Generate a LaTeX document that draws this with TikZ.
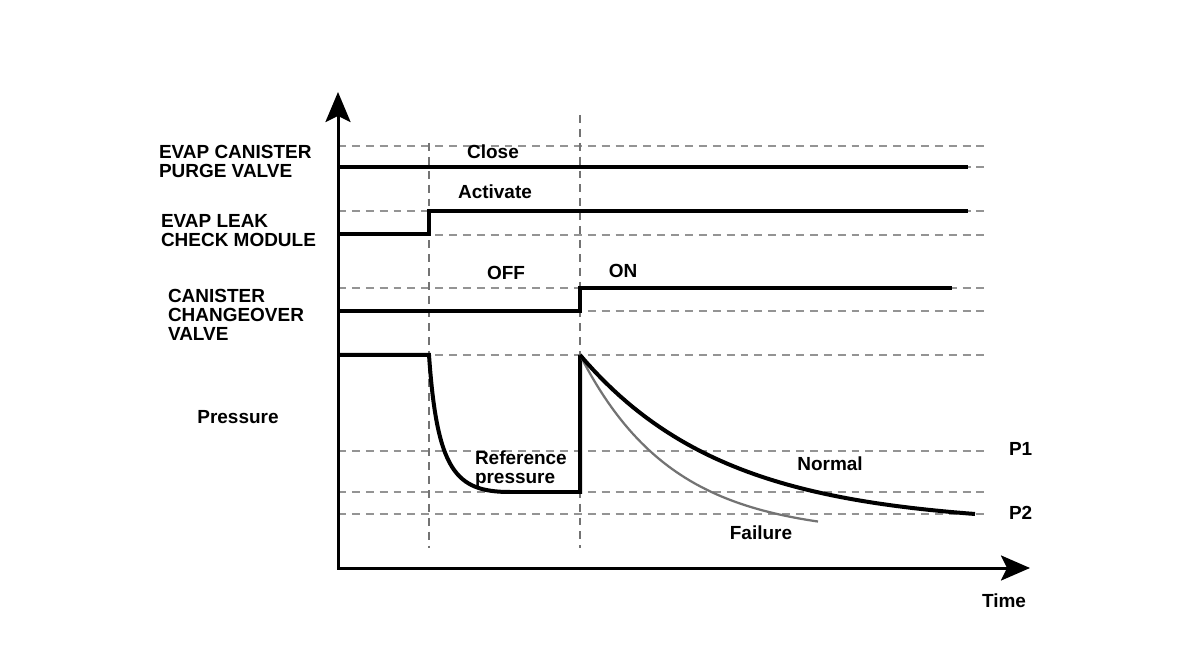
\documentclass[tikz,border=0pt]{standalone}
\usepackage{fontspec}
\setmainfont{Liberation Sans}
\usetikzlibrary{arrows.meta}
\usetikzlibrary{math}

\begin{document}
\begin{tikzpicture}[x=0.02cm,y=-0.02cm,line width=0.08cm,
  guide/.style={draw=black!42, line width=0.04cm, dash pattern=on 4.5pt off 3.4pt},
  vguide/.style={draw=black!55, line width=0.03cm, dash pattern=on 4.5pt off 3.4pt},
  sig/.style={draw=black, line width=0.08cm},
  failcurve/.style={draw=black!55, line width=0.045cm},
  axis/.style={draw=black, line width=0.06cm,
    {Stealth[length=0.6cm,width=0.5cm,inset=0.12cm]}-{Stealth[length=0.58cm,width=0.5cm,inset=0.12cm]}},
  txt/.style={inner sep=0pt, align=left, font=\bfseries\fontsize{10.8pt}{10.8pt}\selectfont}]

  \tikzmath{
    \xo = 338;  % time axis origin
    \yo = 568;  % level of the time axis
    \xs = 429;  % leak check module activated
    \xt = 580;  % changeover valve switched on
    \xe = 990;  % right end of the guide lines
  }

  % frame of the picture
  \useasboundingbox (0,0) rectangle (1199,661);

  \coordinate (O) at (\xo,\yo);
  \coordinate (Ytop) at (\xo,92);
  \coordinate (Xend) at (1030,\yo);

  % horizontal guide lines
  \foreach \lev in {146,167,211,235,288,311,355,451,492,514}
    \draw[guide] (\xo,\lev) -- (\xe,\lev);

  % vertical guide lines
  \draw[vguide] (\xs,143) -- (\xs,548);
  \draw[vguide] (\xt,115) -- (\xt,548);

  % purge valve, leak check module, changeover valve
  \draw[sig] (\xo,167) -- (968,167);
  \draw[sig] (\xo,234) -- (\xs,234) -- (\xs,211) -- (968,211);
  \draw[sig] (\xo,311) -- (\xt,311) -- (\xt,288) -- (952,288);

  % pressure
  \draw[sig] (\xo,355) -- (\xs,355) .. controls (437,470) and (455,492) .. (510,492)
    -- (\xt,492) -- (\xt,355);
  \draw[failcurve] plot[domain=580:818, samples=60] (\x, {535-180*exp(-0.01089*(\x-580))});
  \draw[sig] plot[domain=580:975, samples=60] (\x, {525-170*exp(-0.006934*(\x-580))});

  % axes
  \draw[axis] (Ytop) -- (O) -- (Xend);

  % texts
  \node[txt, anchor=north west] (purge) at (157,143) {EVAP CANISTER\\PURGE VALVE};
  \node[txt, anchor=north west] (leak) at (159,212) {EVAP LEAK\\CHECK MODULE};
  \node[txt, anchor=north west] (ccv) at (166,287) {CANISTER\\CHANGEOVER\\VALVE};
  \node[txt, anchor=base] (press) at (238,424) {Pressure};

  \node[txt, anchor=base] (close) at (493,159) {Close};
  \node[txt, anchor=base] (act) at (495,199) {Activate};
  \node[txt, anchor=base] (off) at (506,280) {OFF};
  \node[txt, anchor=base] (on) at (623,278) {ON};
  \node[txt, anchor=north west] (ref) at (473,449) {Reference\\pressure};
  \node[txt, anchor=base] (normal) at (830,471) {Normal};
  \node[txt, anchor=base] (fail) at (761,540) {Failure};
  \node[txt, anchor=base west] (p1) at (1007,456) {P1};
  \node[txt, anchor=base west] (p2) at (1007,520) {P2};
  \node[txt, anchor=base] (time) at (1004,607) {Time};

\end{tikzpicture}
\end{document}
